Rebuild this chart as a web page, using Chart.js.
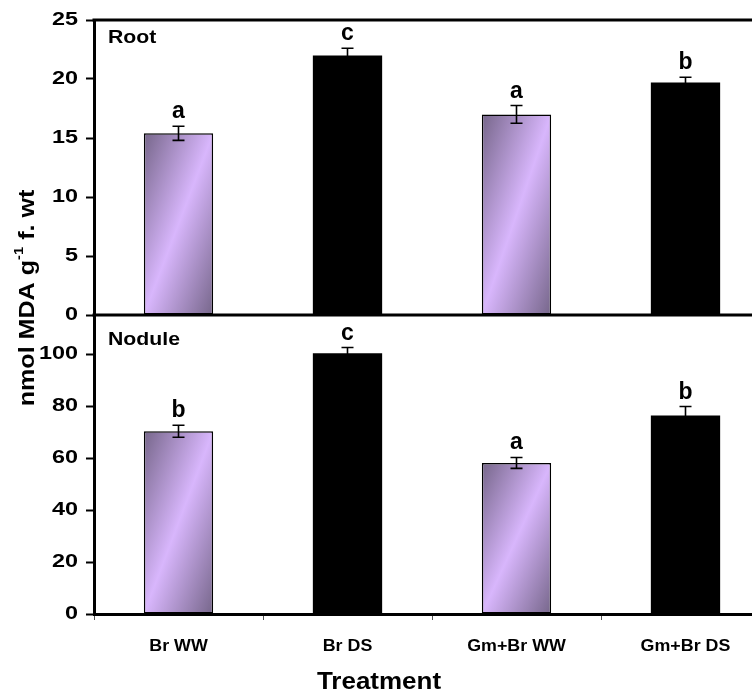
<!DOCTYPE html>
<html>
<head>
<meta charset="utf-8">
<script src="https://cdn.jsdelivr.net/npm/chart.js@4/dist/chart.umd.min.js"></script>
<style>
  html, body { margin: 0; padding: 0; background: #fff; overflow: hidden; }
  #wrap { width: 752px; height: 696px; overflow: hidden; position: relative; }
</style>
</head>
<body>
<div id="wrap"><canvas id="c" width="775" height="696"></canvas></div>
<script>
// MDA content (nmol g-1 fresh weight), mean and standard error per treatment
const treatments = ['Br WW', 'Br DS', 'Gm+Br WW', 'Gm+Br DS'];
const rootMDA = [15.4, 22.0, 17.0, 19.7];
const rootErr = [0.6, 0.6, 0.75, 0.45];
const rootLetters = ['a', 'c', 'a', 'b'];
const noduleMDA = [70.3, 100.3, 58.1, 76.3];
const noduleErr = [2.3, 2.2, 2.1, 3.5];
const noduleLetters = ['b', 'c', 'a', 'b'];
const rootTicks = [0, 5, 10, 15, 20, 25];
const noduleTicks = [0, 20, 40, 60, 80, 100];

const FONT = "'Liberation Sans', Arial, Helvetica, sans-serif";
const BAR_FRACTION = 0.41;

// bold text widened along its own direction
function wideText(ctx, text, x, y, size, sx, align, baseline) {
  ctx.save();
  ctx.translate(x, y);
  ctx.scale(sx, 1);
  ctx.font = 'bold ' + size + 'px ' + FONT;
  ctx.textAlign = align;
  ctx.textBaseline = baseline;
  ctx.fillStyle = '#000';
  ctx.fillText(text, 0, 0);
  ctx.restore();
}

// well-watered bars get a diagonal lavender shading, drought bars are solid black
function barFill(context) {
  const i = context.dataIndex;
  if (i % 2 === 1) return '#000000';
  const chart = context.chart;
  const xs = chart.scales.x;
  const ys = chart.scales[context.dataset.yAxisID];
  if (!chart.chartArea || !xs || !ys) return '#c9a9f0';
  const cat = xs.getPixelForValue(1) - xs.getPixelForValue(0);
  const bw = cat * BAR_FRACTION;
  const x0 = xs.getPixelForValue(i) - bw / 2;
  const y0 = ys.getPixelForValue(context.raw);
  const y1 = ys.getPixelForValue(0);
  const h = y1 - y0;
  if (![cat, x0, y0, y1].every(Number.isFinite) || h <= 0) return '#c9a9f0';
  const t = 2 * bw * h / (h * h + bw * bw);
  const g = chart.ctx.createLinearGradient(x0, y0, x0 + t * h, y0 + t * bw);
  g.addColorStop(0, '#76668a');
  g.addColorStop(0.5, '#d8b6fc');
  g.addColorStop(1, '#76668a');
  return g;
}

const barStyle = {
  grouped: false,
  backgroundColor: barFill,
  borderColor: '#000000',
  borderWidth: (c) => (c.dataIndex % 2 === 1 ? 0 : 1.5),
  borderSkipped: false,
  categoryPercentage: 1,
  barPercentage: BAR_FRACTION
};

const decor = {
  id: 'decor',
  afterDatasetsDraw(chart) {
    const { ctx, chartArea, scales } = chart;
    const xs = scales.x;
    ctx.save();

    // frame lines of the upper panel (top edge and its zero line)
    ctx.strokeStyle = '#000';
    ctx.lineWidth = 3;
    [25, 0].forEach((v) => {
      const y = scales.yRoot.getPixelForValue(v);
      ctx.beginPath();
      ctx.moveTo(chartArea.left - 1.5, y);
      ctx.lineTo(chartArea.right + 20, y);
      ctx.stroke();
    });

    // error bars and significance letters
    const panels = [
      [scales.yRoot, rootMDA, rootErr, rootLetters],
      [scales.yNod, noduleMDA, noduleErr, noduleLetters]
    ];
    panels.forEach(([ys, vals, errs, letters]) => {
      vals.forEach((v, i) => {
        const x = xs.getPixelForValue(i);
        const yt = ys.getPixelForValue(v + errs[i]);
        const yb = ys.getPixelForValue(v - errs[i]);
        ctx.lineWidth = 1.6;
        ctx.beginPath();
        ctx.moveTo(x, yt); ctx.lineTo(x, yb);
        ctx.moveTo(x - 6, yt); ctx.lineTo(x + 6, yt);
        ctx.moveTo(x - 6, yb); ctx.lineTo(x + 6, yb);
        ctx.stroke();
        wideText(ctx, letters[i], x, yt - 8, 23, 1.0, 'center', 'alphabetic');
      });
    });

    // panel names
    wideText(ctx, 'Root', chartArea.left + 14, scales.yRoot.top + 23, 18, 1.18, 'left', 'alphabetic');
    wideText(ctx, 'Nodule', chartArea.left + 14, scales.yNod.top + 30, 18, 1.18, 'left', 'alphabetic');
    ctx.restore();
  },
  afterDraw(chart) {
    const { ctx, scales } = chart;

    // y tick labels of both panels
    [scales.yRoot, scales.yNod].forEach((s) => {
      s.ticks.forEach((t, k) => {
        wideText(ctx, String(t.value), 78, s.getPixelForTick(k), 18, 1.3, 'right', 'middle');
      });
    });

    // category labels and axis title
    treatments.forEach((name, i) => {
      wideText(ctx, name, scales.x.getPixelForValue(i), 646, 17, 1.05, 'center', 'middle');
    });
    wideText(ctx, 'Treatment', 379, 683, 23, 1.13, 'center', 'middle');

    // shared y-axis title with superscript exponent
    ctx.save();
    ctx.translate(28, 298);
    ctx.rotate(-Math.PI / 2);
    ctx.scale(1.14, 1);
    ctx.fillStyle = '#000';
    ctx.textBaseline = 'middle';
    ctx.textAlign = 'left';
    const big = 'bold 22px ' + FONT;
    const small = 'bold 13px ' + FONT;
    const a = 'nmol MDA g', sup = '-1', b = ' f. wt';
    ctx.font = big;
    const wa = ctx.measureText(a).width, wb = ctx.measureText(b).width;
    ctx.font = small;
    const ws = ctx.measureText(sup).width;
    let x = -(wa + ws + wb) / 2;
    ctx.font = big;
    ctx.fillText(a, x, 0);
    x += wa;
    ctx.font = small;
    ctx.fillText(sup, x, -9);
    x += ws;
    ctx.font = big;
    ctx.fillText(b, x, 0);
    ctx.restore();
  }
};

new Chart(document.getElementById('c'), {
  type: 'bar',
  data: {
    labels: treatments,
    datasets: [
      Object.assign({ label: 'Root', data: rootMDA, yAxisID: 'yRoot' }, barStyle),
      Object.assign({ label: 'Nodule', data: noduleMDA, yAxisID: 'yNod' }, barStyle)
    ]
  },
  options: {
    responsive: false,
    animation: false,
    layout: { padding: { top: 20, right: 5, left: 0, bottom: 0 } },
    plugins: { legend: { display: false }, tooltip: { enabled: false } },
    scales: {
      x: {
        type: 'category',
        offset: true,
        afterFit: (s) => { s.height = 82; },
        border: { display: true, color: '#000', width: 3 },
        grid: { offset: true, drawOnChartArea: false, drawTicks: true, tickLength: 6, color: '#555', lineWidth: 1 },
        ticks: { display: false }
      },
      yNod: {
        type: 'linear',
        position: 'left',
        stack: 'panels',
        stackWeight: 299,
        min: 0,
        max: 115,
        afterBuildTicks: (s) => { s.ticks = noduleTicks.map((v) => ({ value: v })); },
        afterFit: (s) => { s.width = 94; },
        border: { display: true, color: '#000', width: 3 },
        grid: { drawOnChartArea: false, drawTicks: true, tickLength: 8, tickColor: '#000', tickWidth: 2 },
        ticks: { display: false }
      },
      yRoot: {
        type: 'linear',
        position: 'left',
        stack: 'panels',
        stackWeight: 295,
        min: 0,
        max: 25,
        afterBuildTicks: (s) => { s.ticks = rootTicks.map((v) => ({ value: v })); },
        afterFit: (s) => { s.width = 94; },
        border: { display: true, color: '#000', width: 3 },
        grid: { drawOnChartArea: false, drawTicks: true, tickLength: 8, tickColor: '#000', tickWidth: 2 },
        ticks: { display: false }
      }
    }
  },
  plugins: [decor]
});
</script>
</body>
</html>
